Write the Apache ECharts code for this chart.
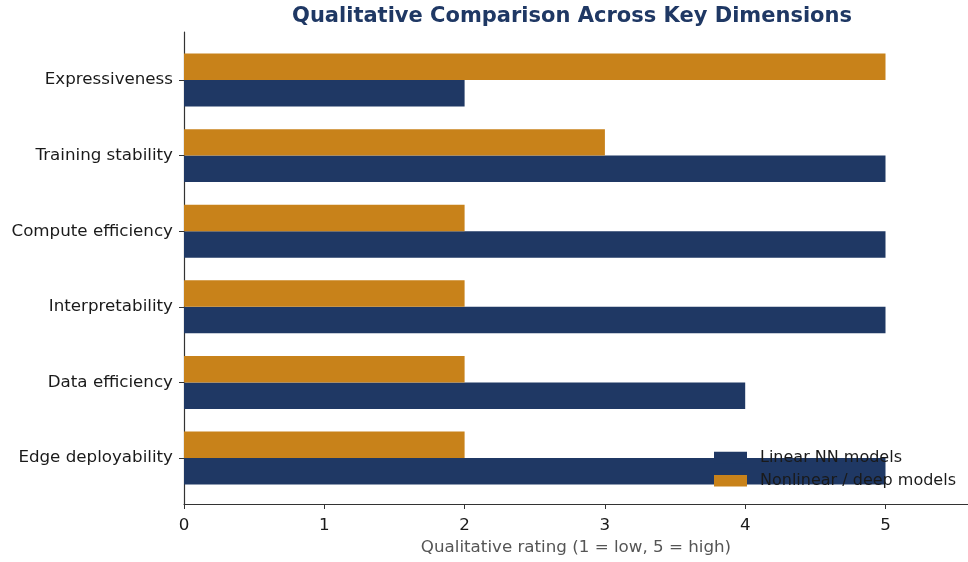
<!DOCTYPE html>
<html>
<head>
<meta charset="utf-8">
<script src="https://cdn.jsdelivr.net/npm/echarts@6/dist/echarts.min.js"></script>
<style>
  html, body { margin: 0; padding: 0; background: #fff; }
  #chart { width: 968px; height: 562px; }
</style>
</head>
<body>
<div id="chart"></div>
<script>
// Dimensions, listed top to bottom
const categories = [
  'Expressiveness',
  'Training stability',
  'Compute efficiency',
  'Interpretability',
  'Data efficiency',
  'Edge deployability'
];
const linearScores = [2, 5, 5, 5, 4, 5];
const nonlinearScores = [5, 3, 2, 2, 2, 2];
const xTicks = [0, 1, 2, 3, 4, 5];
const seriesNames = ['Linear NN models', 'Nonlinear / deep models'];

const NAVY = '#1f3864';
const ORANGE = '#c8821a';
const BAR_H = 0.35;
const FONT = "'DejaVu Sans', sans-serif";
const FS = 16.7;

// Each bar sits half a bar height above or below its category position
function pairs(values, offset) {
  return values.map((v, i) => [v, i + offset]);
}

function renderBar(params, api) {
  const v = api.value(0);
  const y = api.value(1);
  const start = api.coord([0, y]);
  const end = api.coord([v, y]);
  const h = api.size([0, BAR_H])[1];
  return {
    type: 'rect',
    shape: { x: start[0], y: start[1] - h / 2, width: end[0] - start[0], height: h },
    style: api.style()
  };
}

const chart = echarts.init(document.getElementById('chart'), null, { renderer: 'canvas' });

chart.setOption({
  animation: false,
  backgroundColor: '#ffffff',
  title: {
    text: 'Qualitative Comparison Across Key Dimensions',
    left: 567,
    textAlign: 'center',
    top: 1,
    textStyle: { fontFamily: FONT, fontSize: 21, fontWeight: 'bold', color: '#1f3864' }
  },
  legend: {
    orient: 'vertical',
    left: 709,
    top: 444,
    icon: 'rect',
    itemWidth: 33,
    itemHeight: 11.5,
    itemGap: 6.3,
    data: seriesNames,
    textStyle: { fontFamily: FONT, fontSize: 16, lineHeight: 17, color: '#1a1a1a', padding: [0, 0, 0, 8] }
  },
  grid: { left: 184, right: 0, top: 32, bottom: 58, containLabel: false },
  xAxis: {
    type: 'value',
    min: 0,
    max: 5.588,
    interval: 1,
    name: 'Qualitative rating (1 = low, 5 = high)',
    nameLocation: 'middle',
    nameGap: 33,
    nameTextStyle: { fontFamily: FONT, fontSize: FS, color: '#555' },
    axisLine: { show: true, onZero: false, lineStyle: { color: '#333', width: 1.2 } },
    axisTick: { show: true, length: 5, customValues: xTicks, lineStyle: { color: '#333' } },
    axisLabel: {
      customValues: xTicks,
      fontFamily: FONT, fontSize: FS, color: '#1a1a1a', margin: 13
    },
    splitLine: { show: false }
  },
  yAxis: {
    type: 'value',
    inverse: true,
    min: -0.635,
    max: 5.608,
    axisLine: { show: true, onZero: false, lineStyle: { color: '#333', width: 1.2 } },
    axisTick: { show: true, length: 5, customValues: categories.map((c, i) => i), lineStyle: { color: '#333' } },
    axisLabel: {
      customValues: categories.map((c, i) => i),
      formatter: (v) => categories[Math.round(v)],
      fontFamily: FONT, fontSize: FS, color: '#1a1a1a', margin: 11
    },
    splitLine: { show: false }
  },
  series: [
    {
      name: seriesNames[0],
      type: 'custom',
      renderItem: renderBar,
      itemStyle: { color: NAVY },
      encode: { x: 0, y: 1 },
      data: pairs(linearScores, BAR_H / 2)
    },
    {
      name: seriesNames[1],
      type: 'custom',
      renderItem: renderBar,
      itemStyle: { color: ORANGE },
      encode: { x: 0, y: 1 },
      data: pairs(nonlinearScores, -BAR_H / 2)
    }
  ]
});
</script>
</body>
</html>
